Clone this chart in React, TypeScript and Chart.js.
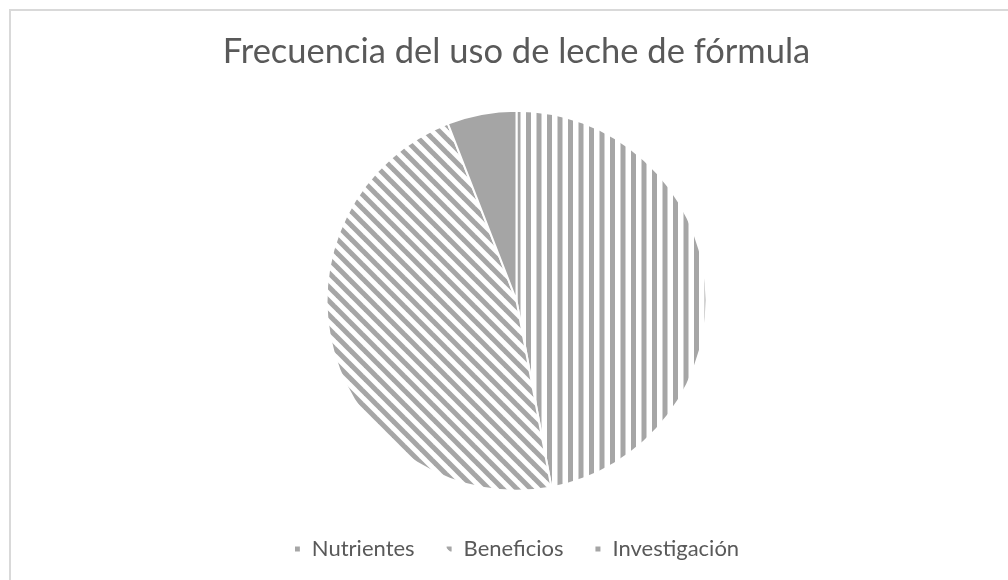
import React, { useEffect, useRef } from "react";
import { Chart, registerables } from "chart.js";

Chart.register(...registerables);

const titleText = "Frecuencia del uso de leche de fórmula";
const categories = ["Nutrientes", "Beneficios", "Investigación"];
const values = [8, 8, 1];

const STRIPE = "#a6a6a6";
const TEXT = "#595959";
const FONT = "Lato, 'Open Sans', sans-serif";

function verticalStripes(): CanvasPattern | string {
  const c = document.createElement("canvas");
  c.width = 21;
  c.height = 21;
  const g = c.getContext("2d");
  if (!g) return STRIPE;
  g.fillStyle = "#ffffff";
  g.fillRect(0, 0, 21, 21);
  g.fillStyle = STRIPE;
  g.fillRect(1, 0, 5, 21);
  g.fillRect(11.5, 0, 5, 21);
  const p = g.createPattern(c, "repeat");
  return p || STRIPE;
}

function diagonalStripes(): CanvasPattern | string {
  const s = 14;
  const c = document.createElement("canvas");
  c.width = s;
  c.height = s;
  const g = c.getContext("2d");
  if (!g) return STRIPE;
  g.fillStyle = "#ffffff";
  g.fillRect(0, 0, s, s);
  g.strokeStyle = STRIPE;
  g.lineWidth = 5;
  for (let k = -1; k <= 1; k++) {
    g.beginPath();
    g.moveTo(-2, -2 + k * s);
    g.lineTo(s + 2, s + 2 + k * s);
    g.stroke();
  }
  const p = g.createPattern(c, "repeat");
  return p || STRIPE;
}

export default function App() {
  const ref = useRef<HTMLCanvasElement | null>(null);

  useEffect(() => {
    if (!ref.current) return;
    const chart = new Chart(ref.current, {
      type: "pie",
      data: {
        labels: categories,
        datasets: [
          {
            data: values,
            backgroundColor: [verticalStripes(), diagonalStripes(), "#a5a5a5"],
            borderColor: "#ffffff",
            borderWidth: 2,
            radius: 190,
          },
        ],
      },
      options: {
        responsive: false,
        animation: false,
        layout: { padding: { left: 25, right: 0, top: 0, bottom: 10 } },
        plugins: {
          title: {
            display: true,
            text: titleText,
            color: TEXT,
            font: { family: FONT, size: 34.5, weight: "normal" },
            padding: { top: 31, bottom: 22 },
          },
          legend: {
            display: true,
            position: "bottom",
            labels: {
              color: TEXT,
              font: { family: FONT, size: 22 },
              boxWidth: 7,
              boxHeight: 7,
              padding: 31,
            },
          },
          tooltip: { enabled: false },
        },
      },
    });
    return () => chart.destroy();
  }, []);

  return (
    <div
      style={{
        position: "absolute",
        left: 0,
        top: 0,
        width: 1008,
        height: 580,
        overflow: "hidden",
        background: "#ffffff",
      }}
    >
      <div
        style={{
          position: "absolute",
          left: 9,
          top: 9,
          width: 1100,
          height: 700,
          border: "2px solid #d9d9d9",
        }}
      />
      <canvas
        ref={ref}
        width={1008}
        height={580}
        style={{ position: "absolute", left: 0, top: 0, width: 1008, height: 580 }}
      />
    </div>
  );
}
